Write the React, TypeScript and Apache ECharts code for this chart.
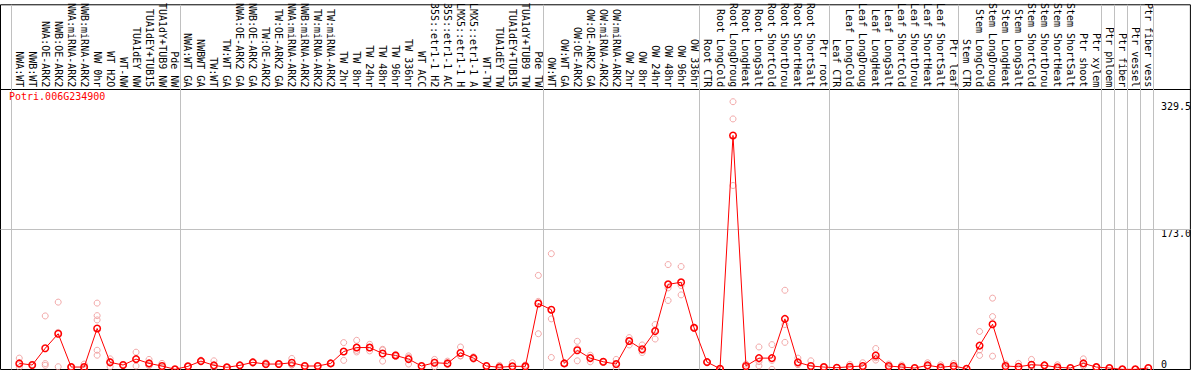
import React, { useEffect, useRef } from "react";
import * as echarts from "echarts";

const geneId = "Potri.006G234900";

const samples = [
  "NWA:WT", "NWB:WT", "NWA:OE-ARK2", "NWB:OE-ARK2", "NWA:miRNA-ARK2", "NWB:miRNA-ARK2", "NW 0hr", "WT H2O", "WT-NW", "TUA1dEY NW", "TUA1dEY+TUB15", "TUA1dY+TUB9 NW", "Pde NW",
  "NWA:WT GA", "NWBWT GA", "TW:WT", "TW:WT GA", "NWA:OE-ARK2 GA", "NWB:OE-ARK2 GA", "TW:OE-ARK2", "TW:OE-ARK2 GA", "NWA:miRNA-ARK2", "NWB:miRNA-ARK2", "TW:miRNA-ARK2", "TW:miRNA-ARK2", "TW 2hr", "TW 8hr", "TW 24hr", "TW 48hr", "TW 96hr", "TW 336hr", "WT ACC", "35S::etr1-1 H2", "35S::etr1-1 AC", "LMX5::etr1-1 H", "LMX5::etr1-1 A", "WT-TW", "TUA1dEY TW", "TUA1dEY+TUB15", "TUA1dY+TUB9 TW", "Pde TW",
  "OW:WT", "OW:WT GA", "OW:OE-ARK2", "OW:OE-ARK2 GA", "OW:miRNA-ARK2", "OW:miRNA-ARK2", "OW 2hr", "OW 8hr", "OW 24hr", "OW 48hr", "OW 96hr", "OW 336hr",
  "Root CTR", "Root LongCold", "Root LongDroug", "Root LongHeat", "Root LongSalt", "Root ShortCold", "Root ShortDrou", "Root ShortHeat", "Root ShortSalt", "Ptr root",
  "Leaf CTR", "Leaf LongCold", "Leaf LongDroug", "Leaf LongHeat", "Leaf LongSalt", "Leaf ShortCold", "Leaf ShortDrou", "Leaf ShortHeat", "Leaf ShortSalt", "Ptr leaf",
  "Stem CTR", "Stem LongCold", "Stem LongDroug", "Stem LongHeat", "Stem LongSalt", "Stem ShortCold", "Stem ShortDrou", "Stem ShortHeat", "Stem ShortSalt", "Ptr shoot", "Ptr xylem",
  "Ptr phloem", "Ptr fiber", "Ptr vessel", "Ptr fiber vess",
];

const means = [
  7.5, 5.5, 26.1, 44.0, 3.0, 3.0, 50.5, 8.8, 5.5, 12.8, 7.5, 4.3, 0.2,
  3.9, 10.3, 5.1, 2.7, 5.1, 8.8, 6.7, 6.7, 8.3, 4.3, 4.3, 7.5, 22.1, 27.0, 27.0, 19.7, 17.3, 12.8, 4.3, 8.3, 7.5, 20.4, 14.0, 4.3, 2.7, 3.9, 3.9, 81.2,
  73.6, 7.5, 23.7, 14.0, 9.5, 6.7, 35.0, 24.9, 47.2, 104.8, 107.3, 51.3,
  9.1, 1.0, 288.0, 4.3, 14.0, 14.0, 62.3, 8.8, 4.3, 3.0,
  2.2, 3.4, 4.3, 17.3, 4.3, 3.0, 1.8, 5.1, 2.7, 4.3,
  1.0, 29.4, 55.7, 4.3, 3.4, 5.8, 5.1, 2.7, 1.8, 7.5, 3.0,
  1.8, 0.2, 0.2, 1.8,
];

const replicates = [
  [14.0, 2.7, 5.8], [4.8, 5.5, 6.2], [65.9, 5.1, 7.3], [82.9, 3.4, 45.7], [3.0, 2.4, 3.6], [6.7, 1.2, 1.1],
  [81.7, 66.3, 61.0, 23.7, 17.6], [13.1, 3.4, 9.9], [5.5, 4.9, 6.1], [21.3, 4.3, 12.8], [12.4, 5.6, 4.5], [7.5, 2.8, 2.6], [0.2, 0.2, 0.2],
  [3.9, 3.5, 4.3], [11.5, 9.5, 10.0], [10.7, 2.5, 2.1], [2.7, 2.4, 3.0], [5.1, 4.6, 5.6], [8.8, 8.0, 9.6], [8.3, 6.0, 5.8], [6.7, 6.2, 7.2],
  [13.6, 5.7, 5.6], [4.3, 3.8, 4.8], [4.3, 3.9, 4.7], [7.5, 7.0, 8.0], [33.1, 11.2, 22.0], [35.9, 21.6, 23.5], [31.0, 22.9, 27.1],
  [24.9, 10.3, 23.9], [17.3, 16.0, 18.6], [16.8, 6.7, 14.9], [4.3, 3.8, 4.8], [12.4, 3.4, 9.1], [10.3, 6.0, 6.2], [27.7, 16.8, 16.7],
  [15.6, 12.8, 13.6], [4.3, 3.9, 4.7], [5.1, 1.5, 1.5], [8.3, 1.7, 1.7], [5.5, 3.1, 3.1], [115.8, 44.0, 83.8],
  [142.5, 62.3, 14.8], [7.5, 7.0, 8.0], [34.7, 10.7, 25.7], [17.6, 9.5, 14.9], [9.5, 9.0, 10.0], [12.4, 1.5, 6.2], [39.2, 30.2, 35.6],
  [30.2, 20.9, 23.6], [55.3, 37.5, 48.8], [129.1, 84.9, 100.4], [126.7, 91.8, 103.4], [51.3, 50.5, 52.1],
  [9.1, 8.5, 9.7], [1.0, 0.8, 1.2], [329.5, 308.3, 226.4], [6.7, 3.1, 3.1], [27.7, 4.6, 9.7], [30.6, 0.2, 11.2], [97.5, 55.3, 33.4],
  [14.0, 6.2, 6.2], [10.7, 1.1, 1.1], [3.0, 2.6, 3.4],
  [2.2, 1.9, 2.5], [6.3, 2.0, 1.9], [8.3, 2.3, 2.3], [25.8, 11.6, 14.5], [6.7, 3.1, 3.1], [5.5, 1.8, 1.7], [1.8, 1.6, 2.0], [8.3, 3.5, 3.5],
  [5.8, 1.2, 1.1], [7.5, 2.7, 2.7],
  [1.0, 0.8, 1.2], [46.8, 17.3, 24.1], [87.8, 65.1, 16.4], [6.7, 3.1, 3.1], [7.5, 1.4, 1.3], [12.4, 2.5, 2.5], [5.1, 4.6, 5.6],
  [5.8, 1.2, 1.1], [1.8, 1.6, 2.0], [13.1, 4.7, 4.7], [3.0, 2.6, 3.4],
  [1.8, 1.6, 2.0], [0.2, 0.2, 0.2], [0.2, 0.2, 0.2], [1.8, 1.6, 2.0],
];

// group boundaries (in column units)
const groupBoundaries = [0, 13, 41, 53, 63, 73, 84, 85, 86, 87, 88];
const scaleLabels = [329.5, 173.0];
const zeroLabel = [0];
const midLine = 173.0;

export default function App() {
  const ref = useRef<HTMLDivElement>(null);
  useEffect(() => {
    if (!ref.current) return;
    document.body.style.margin = "0";
    const chart = echarts.init(ref.current, null, { renderer: "svg" });
    const font = "DejaVu Sans Mono";
    // layout: columns 13px wide, first column boundary at x=11.3
    const gridLeft = 0.5;
    const gridWidth = 1192;
    const colW = 13;
    const colStart = 11.3;
    const xMin = (gridLeft - colStart) / colW;
    const xMax = (gridLeft + gridWidth - colStart) / colW;
    const pOff = 8 / 13;
    // y: plot area 85..369.5 holds 0..1.05*max
    const gridTop = 0.5;
    const gridH = 369;
    const plotH = 284.5;
    const topVal = 329.5 * 1.05;
    const yMax = (topVal * gridH) / plotH;

    const repData: number[][] = [];
    replicates.forEach((arr, i) => arr.forEach((v) => repData.push([i + pOff, v])));

    chart.setOption({
      animation: false,
      textStyle: { fontFamily: font },
      title: {
        text: geneId,
        left: 9,
        top: 91,
        padding: 0,
        textStyle: { color: "#ff0000", fontSize: 10, fontWeight: "normal", fontFamily: font },
      },
      grid: {
        left: gridLeft,
        top: gridTop,
        width: gridWidth,
        height: gridH,
        show: true,
        borderColor: "#000",
        borderWidth: 1,
        backgroundColor: "transparent",
      },
      xAxis: [
        {
          type: "value",
          min: xMin,
          max: xMax,
          position: "top",
          offset: -84.5,
          axisLine: { show: true, onZero: false, lineStyle: { color: "#000", width: 1 } },
          axisTick: { show: false },
          splitLine: { show: false },
          axisLabel: {
            customValues: samples.map((_, i) => i + pOff),
            formatter: (v: number) => samples[Math.round(v - pOff)],
            rotate: 90,
            margin: 2,
            fontSize: 10,
            fontFamily: font,
            color: "#000",
          },
        },
      ],
      yAxis: [
        {
          type: "value",
          min: 0,
          max: yMax,
          position: "right",
          axisLine: { show: false },
          axisTick: { show: false },
          splitLine: { show: false },
          axisLabel: {
            inside: true,
            customValues: scaleLabels,
            formatter: (v: number) => v.toFixed(1),
            align: "left",
            verticalAlign: "top",
            margin: 29.5,
            fontSize: 10,
            fontFamily: font,
            color: "#000",
          },
        },
        {
          type: "value",
          min: 0,
          max: yMax,
          position: "right",
          axisLine: { show: false },
          axisTick: { show: false },
          splitLine: { show: false },
          axisLabel: {
            inside: true,
            customValues: zeroLabel,
            formatter: (v: number) => String(v),
            align: "left",
            verticalAlign: "bottom",
            margin: 29.5,
            fontSize: 10,
            fontFamily: font,
            color: "#000",
          },
        },
      ],
      series: [
        {
          type: "scatter",
          data: repData,
          symbol: "circle",
          symbolSize: 6,
          itemStyle: { color: "transparent", borderColor: "#ef9494", borderWidth: 1 },
          z: 2,
          silent: true,
          markLine: {
            silent: true,
            symbol: ["none", "none"],
            z: 1,
            label: { show: false },
            lineStyle: { color: "#c0c0c0", type: "solid", width: 1 },
            data: [
              ...groupBoundaries.map((b) => ({ xAxis: b })),
              { yAxis: midLine },
            ],
          },
        },
        {
          type: "line",
          data: means.map((v, i) => [i + pOff, v]),
          symbol: "circle",
          symbolSize: 6.5,
          showAllSymbol: true,
          lineStyle: { color: "#ff0000", width: 1 },
          itemStyle: { color: "transparent", borderColor: "#ff0000", borderWidth: 1.5 },
          z: 3,
          silent: true,
        },
      ],
    });
    return () => chart.dispose();
  }, []);
  return (
    <div
      ref={ref}
      style={{ position: "absolute", left: 0, top: 0, width: 1194, height: 370 }}
    />
  );
}
